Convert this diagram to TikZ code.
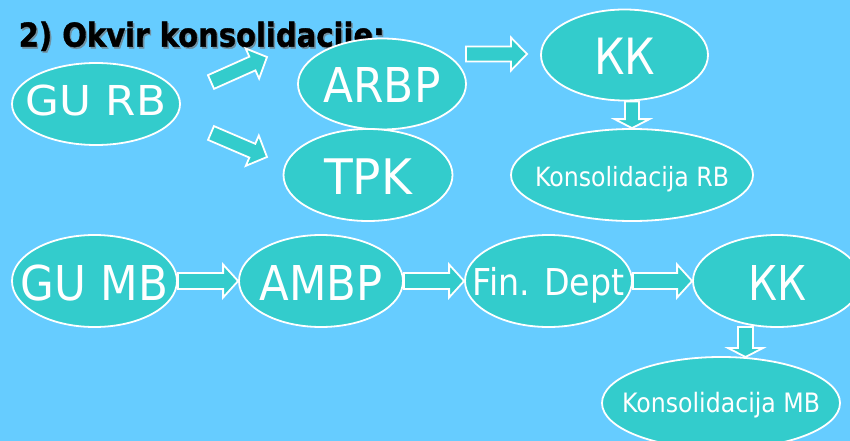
\documentclass[tikz,border=0pt]{standalone}
\usepackage{fontspec}
\setmainfont{DejaVu Sans}
\newfontfamily\titlefont[BoldFeatures={FakeBold=1.2}]{DejaVu Sans}
\usetikzlibrary{shapes.geometric,calc}
\definecolor{bgblue}{HTML}{66CCFF}
\definecolor{tealfill}{HTML}{33CCCC}
\definecolor{shadowc}{HTML}{6F8FA0}
% width, font size, text, raise
\newcommand\etext[4]{\makebox[0pt]{\smash{\raisebox{#4pt}{\resizebox{#1pt}{\height}{\fontsize{#2pt}{#2pt}\selectfont #3}}}}}
% block arrow: from, to, shaft half width, head half width, head length
\newcommand\barrow[5]{%
  \draw[blockarrow] let \p1=(#1), \p2=(#2),
    \n1={atan2(\y2-\y1,\x2-\x1)}, \n2={veclen(\x2-\x1,\y2-\y1)} in
    [shift={(\p1)},rotate=\n1]
    (0,#3) -- (\n2-#5,#3) -- (\n2-#5,#4) -- (\n2,0) -- (\n2-#5,-#4) -- (\n2-#5,-#3) -- (0,-#3) -- cycle;}
\tikzset{
  oval/.style={ellipse,draw=white,line width=1.8pt,fill=tealfill,text=white,inner sep=0pt},
  blockarrow/.style={draw=white,line width=1.8pt,fill=tealfill,line join=miter},
  titletext/.style={anchor=base west,inner sep=0pt}
}
\begin{document}
\begin{tikzpicture}[x=1pt,y=-1pt]
\fill[bgblue] (0,0) rectangle (850,441);
\useasboundingbox (0,0) rectangle (850,441);
% title with shadow
\node[titletext,text=shadowc] (titleshadow) at (20,48.4)
  {\resizebox{366pt}{\height}{\fontsize{33pt}{33pt}\titlefont\bfseries 2) Okvir konsolidacije:}};
\node[titletext,text=black] (title) at (18.5,46.7)
  {\resizebox{366pt}{\height}{\fontsize{33pt}{33pt}\titlefont\bfseries 2) Okvir konsolidacije:}};
% ellipses
\node[oval,minimum width=168pt,minimum height=82pt] (gurb) at (96,104) {\etext{140}{41.2}{GU RB}{-11}};
\node[oval,minimum width=168pt,minimum height=91pt] (arbp) at (382,84) {\etext{117}{48}{ARBP}{-18.5}};
\node[oval,minimum width=169pt,minimum height=92pt] (tpk) at (368,175) {\etext{88}{49}{TPK}{-19}};
\node[oval,minimum width=167pt,minimum height=91pt] (kk1) at (624.5,55) {\etext{61}{50}{КК}{-20}};
\node[oval,minimum width=242pt,minimum height=92pt] (konsrb) at (632,175) {\etext{194}{26.5}{Konsolidacija RB}{-11.2}};
\node[oval,minimum width=165pt,minimum height=92pt] (gumb) at (94.5,281) {\etext{147}{48}{GU MB}{-19}};
\node[oval,minimum width=164pt,minimum height=92pt] (ambp) at (321,281) {\etext{123}{48}{AMBP}{-19}};
\node[oval,minimum width=167pt,minimum height=92pt] (fin) at (548.5,281) {\etext{152}{37}{Fin. Dept}{-14}};
\node[oval,minimum width=168pt,minimum height=92pt] (kk2) at (777,281) {\etext{58}{48}{КК}{-19}};
\node[oval,minimum width=238pt,minimum height=92pt] (konsmb) at (721,403) {\etext{198}{26.7}{Konsolidacija MB}{-9.75}};
% connector end points
\coordinate (a1s) at (211,82);
\coordinate (a1e) at (267,57);
\coordinate (a2s) at (211,133);
\coordinate (a2e) at (267,157);
\coordinate (a3s) at (466,54);
\coordinate (a3e) at (527,54);
\coordinate (a4s) at (konsrb.north |- kk1.south);
\coordinate (a8s) at (745.5,327);
\coordinate (a8e) at (745.5,357);
% block arrows
\barrow{a1s}{a1e}{7.5}{16.5}{16}
\barrow{a2s}{a2e}{7.5}{16.5}{16}
\barrow{a3s}{a3e}{7.5}{16.5}{16}
\barrow{a4s}{konsrb.north}{7}{17.5}{9}
\barrow{gumb.east}{ambp.west}{8}{16.5}{15}
\barrow{ambp.east}{fin.west}{8}{16.5}{15}
\barrow{fin.east}{kk2.west}{8}{16.5}{15}
\barrow{a8s}{a8e}{7.5}{17.5}{9}
\end{tikzpicture}
\end{document}
